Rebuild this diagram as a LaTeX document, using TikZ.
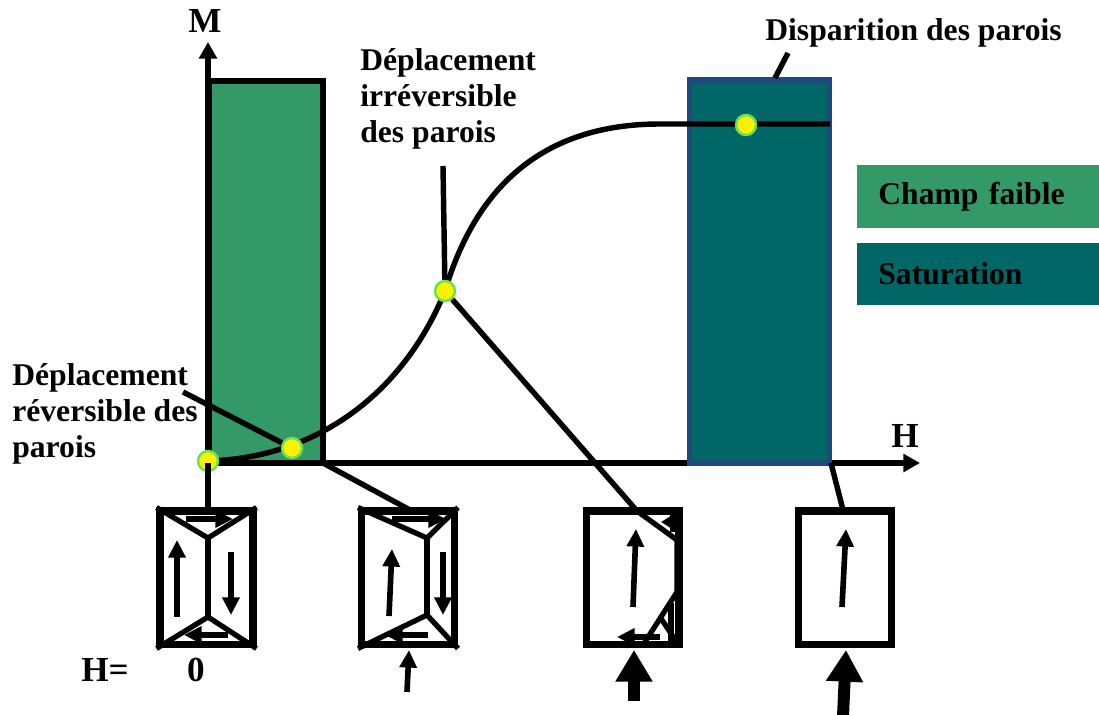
\documentclass[tikz,border=0pt]{standalone}
\usepackage{fontspec}
\setmainfont{Liberation Serif}
\usetikzlibrary{arrows.meta}

\definecolor{champ}{RGB}{51,153,102}
\definecolor{satur}{RGB}{0,102,102}
\definecolor{saturbord}{RGB}{31,73,125}
\definecolor{dotrim}{RGB}{110,225,80}

\begin{document}
\begin{tikzpicture}[x=0.02cm, y=-0.02cm]

\tikzstyle{every node} = [inner sep=0pt, font=\fontsize{18}{20.5}\selectfont\bfseries]
\tikzstyle{grand} = [font=\fontsize{20}{22}\selectfont\bfseries]
\tikzstyle{trait} = [line width=3.1pt]
\tikzstyle{axe} = [line width=3pt, -{Triangle[length=9.5pt,width=10pt]}]
\tikzstyle{pt} = [circle, fill=yellow, draw=dotrim, line width=1.4pt, minimum size=0.4cm]
\tikzstyle{cadre} = [draw, line width=4pt, minimum width=1.86cm, minimum height=2.68cm]
\tikzstyle{paroi} = [line width=3pt]
\tikzstyle{spin} = [line width=3.2pt, -{Triangle[length=10pt,width=9.5pt]}]
\tikzstyle{petit} = [line width=2.2pt, -{Triangle[length=6pt,width=7pt]}]
\tikzstyle{fort} = [line width=6.8pt, -{Triangle[length=18pt,width=20pt]}]
\tikzstyle{legende} = [anchor=west, minimum width=4.84cm, minimum height=1.26cm,
  text width=4cm, inner xsep=0.42cm, align=left]

\useasboundingbox (0,0) rectangle (1099,715);

% axes
\coordinate (o) at (208,463);
\coordinate (m) at (208,42);
\coordinate (h) at (920,463);
\draw[axe] (o) -- (m);
\draw[axe] (o) -- (h);
\node[grand] (lm) at (205,21) {M};
\node[grand] (lh) at (905,436) {H};

% zones
\draw[trait, line width=3pt, fill=champ] (209,81) rectangle (323,463);
\draw[line width=3pt, draw=saturbord, fill=satur] (689.5,80) rectangle (829.5,463);
\coordinate (rc) at (323,463);
\coordinate (rs) at (831,463);

% courbe de premiere aimantation
\coordinate (s) at (660,124);
\coordinate (se) at (830,124);
\draw[trait] (208,461) .. controls (320,458) and (405,390) .. (445,291)
  .. controls (475,190) and (540,124) .. (s) -- (se);

\node[pt] (p0) at (208,461) {};
\node[pt] (p1) at (292,448) {};
\node[pt] (p2) at (445,291) {};
\node[pt] (p3) at (746,125) {};

% textes
\node[anchor=west, align=left] (rev) at (12,414) {D\'eplacement\\r\'eversible des\\parois};
\node[anchor=west, align=left] (irr) at (360,99) {D\'eplacement\\irr\'eversible\\des parois};
\node[anchor=west] (dis) at (765,33) {Disparition des parois};
\node[legende, fill=champ] (cf) at (857,197) {Champ faible};
\node[legende, fill=satur] (sa) at (857,274) {Saturation};
\node[grand] (heq) at (105,670) {H=};
\node[grand] (h0) at (196,670) {0};

% domaines
\node[cadre] (b1) at (206.5,578) {};
\node[cadre] (b2) at (408,578) {};
\node[cadre] (b3) at (632.5,578) {};
\node[cadre] (b4) at (845,578) {};

% renvois
\coordinate (r1) at (183,392);
\coordinate (i1) at (443,166);
\coordinate (d1) at (788,53);
\coordinate (d2) at (775,78);
\coordinate (w3) at (637,511);
\coordinate (t1) at (208,511);
\draw[trait] (r1) -- (p1);
\draw[trait] (i1) -- (p2);
\draw[trait] (d1) -- (d2);
\draw[trait] (o) -- (t1);
\draw[trait] (rc) -- (410,510);
\draw[trait] (p2) -- (w3);
\draw[trait] (rs) -- (843,510);

% H = 0
\draw[paroi] (b1.north west) -- (208,538) -- (b1.north east);
\draw[paroi] (208,538) -- (208,617);
\draw[paroi] (b1.south west) -- (208,617) -- (b1.south east);
\draw[spin] (186,519) -- (233,519);
\draw[spin] (177,617) -- (177,540);
\draw[spin] (231,552) -- (231,615);
\draw[spin] (228,635) -- (184,635);

% champ faible
\draw[paroi] (b2.north west) -- (427,538) -- (b2.north east);
\draw[paroi] (427,538) -- (427,615);
\draw[paroi] (b2.south west) -- (427,615) -- (b2.south east);
\draw[spin] (392,519) -- (446,519);
\draw[spin] (389,616) -- (392,549);
\draw[spin] (443,552) -- (443,615);
\draw[spin] (428,635) -- (385,635);
\draw[spin] (407,692) -- (409,650);

% champ fort
\draw[paroi] (w3) -- (677,540) -- (677,592) -- (643,645);
\draw[spin] (633,607) -- (636,529);
\draw[petit] (676,522) -- (661,522);
\draw[paroi] (673,512) -- (673,532);
\draw[paroi] (671,642) -- (671,603);
\draw[paroi] (660,617) -- (676,641);
\draw[spin] (660,637) -- (617,637);
\draw[fort] (634,701) -- (634,650);

% saturation
\draw[spin] (842,607) -- (846,529);
\draw[fort] (843,716) -- (846,650);

\end{tikzpicture}
\end{document}
